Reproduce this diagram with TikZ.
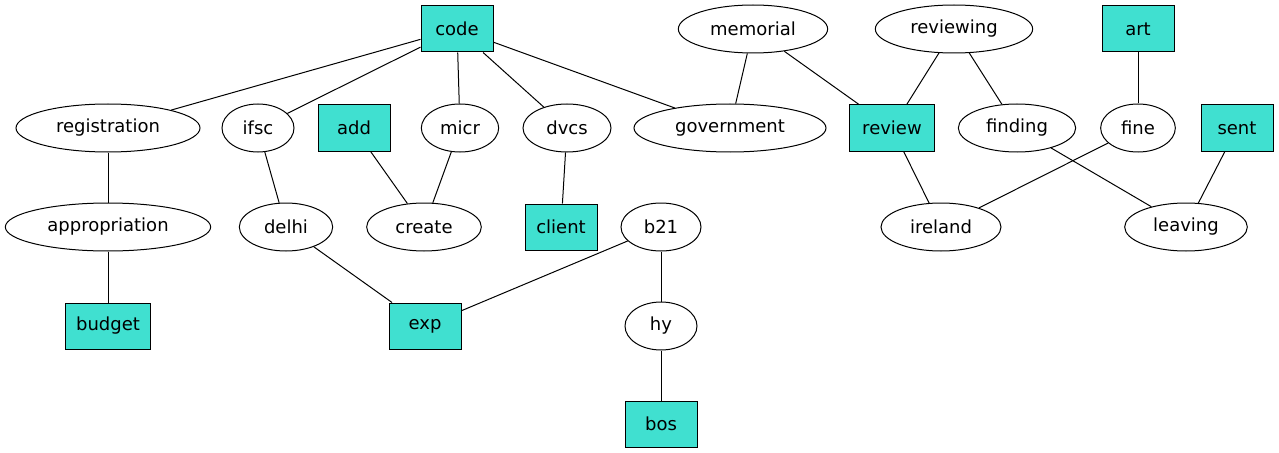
\documentclass[tikz,border=0pt]{standalone}
\usepackage{fontspec}
\setmainfont{DejaVu Sans}
\usetikzlibrary{shapes.geometric}
\definecolor{turq}{HTML}{40E0D0}
\begin{document}
\begin{tikzpicture}[x=0.75pt, y=-0.75pt, line width=0.75pt, font=\fontsize{13.5}{15}\selectfont,
  term/.style={ellipse, draw, inner sep=0pt, minimum height=36pt},
  hub/.style={rectangle, draw, fill=turq, inner sep=0pt, minimum height=34.5pt, minimum width=54pt}]
\useasboundingbox (0,0) rectangle (1279,453);
% top row
\node[hub] (code) at (457,29) {code};
\node[term, minimum width=112pt] (memorial) at (753,29) {memorial};
\node[term, minimum width=118pt] (reviewing) at (954,29) {reviewing};
\node[hub] (art) at (1138,29) {art};
% second row
\node[term, minimum width=138pt] (registration) at (108,128) {registration};
\node[term, minimum width=54pt] (ifsc) at (258,128) {ifsc};
\node[hub] (add) at (354,128) {add};
\node[term, minimum width=58pt] (micr) at (460,128) {micr};
\node[term, minimum width=66pt] (dvcs) at (567,128) {dvcs};
\node[term, minimum width=144pt] (government) at (730,128) {government};
\node[hub, minimum width=64pt] (review) at (892,128) {review};
\node[term, minimum width=88pt] (finding) at (1017,128) {finding};
\node[term, minimum width=56pt] (fine) at (1138,128) {fine};
\node[hub] (sent) at (1237,128) {sent};
% third row
\node[term, minimum width=154pt] (appropriation) at (108,227) {appropriation};
\node[term, minimum width=70pt] (delhi) at (286,227) {delhi};
\node[term, minimum width=86pt] (create) at (424,227) {create};
\node[hub] (client) at (561,227) {client};
\node[term, minimum width=60pt] (b21) at (661,227) {b21};
\node[term, minimum width=90pt] (ireland) at (941,227) {ireland};
\node[term, minimum width=92pt] (leaving) at (1186,227) {leaving};
% bottom rows
\node[hub, minimum width=64pt] (budget) at (108,326) {budget};
\node[hub] (exp) at (425,326) {exp};
\node[term, minimum width=54pt] (hy) at (661,326) {hy};
\node[hub] (bos) at (661,424) {bos};
\draw (code) -- (registration);
\draw (code) -- (ifsc);
\draw (code) -- (micr);
\draw (code) -- (dvcs);
\draw (code) -- (government);
\draw (memorial) -- (government);
\draw (memorial) -- (review);
\draw (reviewing) -- (review);
\draw (reviewing) -- (finding);
\draw (art) -- (fine);
\draw (registration) -- (appropriation);
\draw (ifsc) -- (delhi);
\draw (add) -- (create);
\draw (micr) -- (create);
\draw (dvcs) -- (client);
\draw (review) -- (ireland);
\draw (finding) -- (leaving);
\draw (fine) -- (ireland);
\draw (sent) -- (leaving);
\draw (appropriation) -- (budget);
\draw (delhi) -- (exp);
\draw (b21) -- (exp);
\draw (b21) -- (hy);
\draw (hy) -- (bos);
\end{tikzpicture}
\end{document}
